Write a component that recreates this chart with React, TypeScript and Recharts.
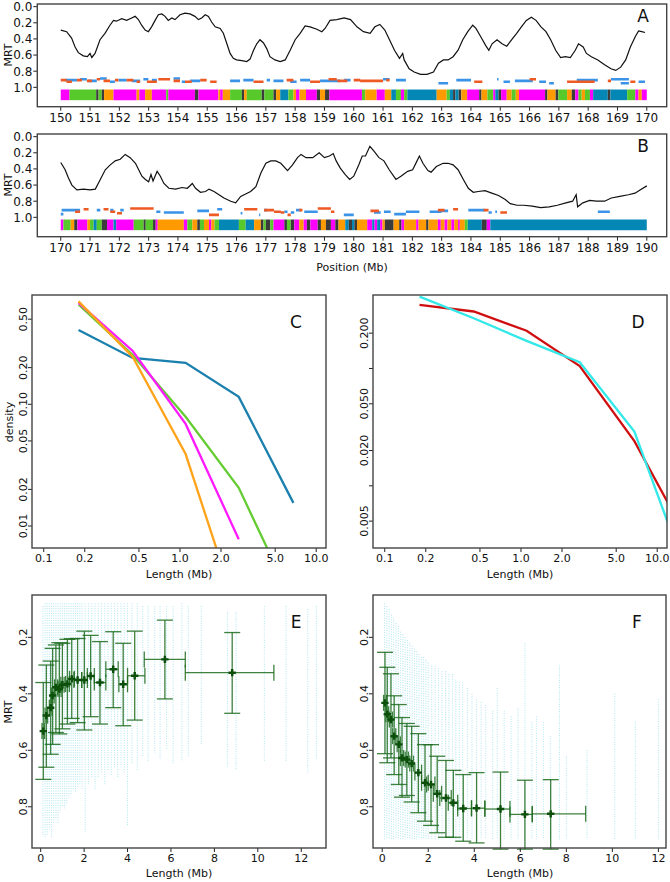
import React from 'react';
import {
  ComposedChart,
  Line,
  Scatter,
  ErrorBar,
  XAxis,
  YAxis,
  ZAxis,
  ReferenceArea,
} from 'recharts';

// ---------- A / B : MRT profile along the chromosome ----------
const A_POS = [
  150.0, 150.2, 150.37, 150.49, 150.6, 150.77, 150.91, 151.0, 151.06, 151.17, 151.34, 151.51, 151.68, 151.8,
  151.9, 152.08, 152.25, 152.42, 152.54, 152.65, 152.76, 152.88, 152.99, 153.1, 153.22, 153.33, 153.45, 153.56,
  153.67, 153.79, 153.9, 154.07, 154.24, 154.41, 154.58, 154.7, 154.81, 154.93, 155.04, 155.15, 155.27, 155.44,
  155.55, 155.67, 155.78, 155.89, 156.0, 156.18, 156.35, 156.46, 156.58, 156.69, 156.8, 156.92, 157.03, 157.14,
  157.31, 157.49, 157.66, 157.83, 158.0, 158.17, 158.34, 158.51, 158.74, 158.91, 159.02, 159.19, 159.42, 159.67,
  159.89, 160.11, 160.33, 160.56, 160.72, 160.89, 161.06, 161.22, 161.39, 161.56, 161.67, 161.72, 161.89, 162.06,
  162.28, 162.5, 162.72, 162.89, 163.06, 163.22, 163.39, 163.56, 163.72, 163.89, 164.06, 164.17, 164.33, 164.5,
  164.61, 164.72, 164.89, 165.06, 165.22, 165.39, 165.56, 165.72, 165.89, 166.06, 166.22, 166.39, 166.56, 166.72,
  166.89, 167.06, 167.22, 167.39, 167.56, 167.67, 167.83, 167.94, 168.11, 168.33, 168.56, 168.78, 168.94, 169.11,
  169.28, 169.44, 169.61, 169.72, 169.83, 169.94,
];
const A_MRT = [
  0.29, 0.31, 0.39, 0.5, 0.57, 0.61, 0.62, 0.58, 0.63, 0.58, 0.41, 0.33, 0.23, 0.17,
  0.18, 0.15, 0.17, 0.14, 0.12, 0.16, 0.23, 0.29, 0.31, 0.25, 0.17, 0.1, 0.09, 0.12,
  0.17, 0.14, 0.16, 0.1, 0.08, 0.09, 0.12, 0.16, 0.14, 0.1, 0.12, 0.19, 0.25, 0.27,
  0.33, 0.46, 0.58, 0.64, 0.66, 0.67, 0.68, 0.65, 0.54, 0.46, 0.41, 0.45, 0.52, 0.62,
  0.66, 0.68, 0.66, 0.54, 0.41, 0.33, 0.24, 0.25, 0.28, 0.31, 0.27, 0.17, 0.16, 0.14,
  0.16, 0.25, 0.31, 0.33, 0.25, 0.22, 0.29, 0.41, 0.54, 0.64, 0.58, 0.66, 0.77, 0.81,
  0.84, 0.84, 0.81, 0.7, 0.66, 0.66, 0.62, 0.54, 0.41, 0.31, 0.23, 0.27, 0.37, 0.48,
  0.54, 0.46, 0.41, 0.46, 0.49, 0.41, 0.33, 0.25, 0.17, 0.13, 0.17, 0.25, 0.31, 0.41,
  0.54, 0.63, 0.62, 0.63, 0.54, 0.46, 0.5, 0.58, 0.62, 0.66, 0.72, 0.77, 0.79, 0.75,
  0.66, 0.5, 0.37, 0.3, 0.31, 0.32,
];

const B_POS = [
  170.0, 170.15, 170.26, 170.38, 170.55, 170.78, 171.0, 171.18, 171.35, 171.52, 171.69, 171.86, 172.03, 172.2,
  172.37, 172.55, 172.66, 172.77, 172.89, 173.0, 173.08, 173.15, 173.29, 173.4, 173.52, 173.69, 173.92, 174.14,
  174.32, 174.49, 174.6, 174.77, 174.94, 175.06, 175.23, 175.4, 175.57, 175.8, 175.97, 176.14, 176.31, 176.48,
  176.66, 176.83, 177.0, 177.17, 177.34, 177.51, 177.74, 177.91, 178.08, 178.2, 178.37, 178.6, 178.82, 179.0,
  179.17, 179.3, 179.4, 179.54, 179.71, 179.86, 180.0, 180.17, 180.29, 180.4, 180.55, 180.69, 180.86, 181.03,
  181.21, 181.44, 181.61, 181.84, 182.01, 182.16, 182.24, 182.36, 182.53, 182.64, 182.82, 183.05, 183.22, 183.39,
  183.56, 183.74, 183.91, 184.08, 184.25, 184.48, 184.71, 184.94, 185.17, 185.34, 185.57, 185.8, 186.09, 186.38,
  186.67, 186.95, 187.24, 187.47, 187.59, 187.64, 187.82, 188.05, 188.28, 188.56, 188.79, 189.08, 189.37, 189.6,
  189.77, 190.0,
];
const B_MRT = [
  0.32, 0.41, 0.51, 0.6, 0.66, 0.65, 0.66, 0.65, 0.53, 0.41, 0.35, 0.3, 0.28, 0.22,
  0.26, 0.33, 0.41, 0.49, 0.53, 0.56, 0.47, 0.55, 0.43, 0.49, 0.58, 0.64, 0.65, 0.63,
  0.64, 0.58, 0.64, 0.69, 0.68, 0.65, 0.68, 0.72, 0.76, 0.8, 0.82, 0.74, 0.71, 0.68,
  0.62, 0.45, 0.33, 0.3, 0.3, 0.33, 0.42, 0.35, 0.26, 0.22, 0.26, 0.26, 0.2, 0.26,
  0.24, 0.21, 0.3, 0.39, 0.47, 0.53, 0.49, 0.35, 0.24, 0.24, 0.12, 0.18, 0.26, 0.3,
  0.41, 0.53, 0.49, 0.43, 0.41, 0.3, 0.24, 0.33, 0.42, 0.44, 0.37, 0.33, 0.33, 0.35,
  0.41, 0.53, 0.64, 0.69, 0.68, 0.67, 0.7, 0.73, 0.78, 0.83, 0.85, 0.85, 0.86, 0.88,
  0.87, 0.85, 0.82, 0.8, 0.72, 0.87, 0.82, 0.79, 0.8, 0.8, 0.76, 0.74, 0.72, 0.7,
  0.66, 0.61,
];

// segmentation band: [start Mb, end Mb, class]
// M magenta, G green, O orange, D dark, B blue
const A_BAND: [number, number, string][] = [
  [150.0, 150.3, 'M'], [150.3, 151.21, 'G'], [151.21, 151.29, 'D'], [151.29, 151.4, 'G'], [151.4, 151.48, 'D'],
  [151.48, 151.8, 'O'], [151.8, 152.59, 'M'], [152.59, 152.68, 'O'], [152.68, 152.88, 'M'], [152.88, 153.11, 'O'],
  [153.11, 153.6, 'M'], [153.6, 153.67, 'G'], [153.67, 154.58, 'M'], [154.58, 154.7, 'D'], [154.7, 155.38, 'M'],
  [155.38, 155.44, 'O'], [155.44, 155.53, 'M'], [155.53, 155.78, 'O'], [155.78, 156.18, 'G'], [156.18, 156.26, 'D'],
  [156.26, 156.35, 'O'], [156.35, 156.86, 'G'], [156.86, 156.95, 'D'], [156.95, 157.26, 'G'], [157.26, 157.35, 'D'],
  [157.35, 157.49, 'O'], [157.49, 157.77, 'B'], [157.77, 157.94, 'G'], [157.94, 158.03, 'O'], [158.03, 158.15, 'M'],
  [158.15, 158.37, 'O'], [158.37, 158.74, 'M'], [158.74, 158.85, 'D'], [158.85, 159.02, 'O'], [159.02, 159.17, 'D'],
  [159.17, 160.28, 'M'], [160.28, 160.39, 'G'], [160.39, 160.78, 'O'], [160.78, 161.06, 'M'], [161.06, 161.28, 'O'],
  [161.28, 161.44, 'B'], [161.44, 161.61, 'G'], [161.61, 161.72, 'M'], [161.72, 161.83, 'G'], [161.83, 162.83, 'B'],
  [162.83, 163.17, 'O'], [163.17, 163.28, 'G'], [163.28, 163.39, 'B'], [163.39, 163.47, 'D'], [163.47, 163.58, 'B'],
  [163.58, 163.67, 'D'], [163.67, 163.87, 'O'], [163.87, 164.28, 'M'], [164.28, 164.36, 'D'], [164.36, 164.56, 'O'],
  [164.56, 164.76, 'G'], [164.76, 164.83, 'M'], [164.83, 164.94, 'B'], [164.94, 165.03, 'D'], [165.03, 165.22, 'M'],
  [165.22, 165.39, 'O'], [165.39, 165.53, 'G'], [165.53, 165.64, 'O'], [165.64, 166.53, 'M'], [166.53, 166.61, 'D'],
  [166.61, 166.89, 'O'], [166.89, 166.98, 'D'], [166.98, 167.28, 'G'], [167.28, 167.44, 'O'], [167.44, 167.56, 'D'],
  [167.56, 167.67, 'M'], [167.67, 167.78, 'G'], [167.78, 167.89, 'O'], [167.89, 168.06, 'G'], [168.06, 168.17, 'M'],
  [168.17, 168.67, 'B'], [168.67, 168.76, 'D'], [168.76, 169.33, 'B'], [169.33, 169.61, 'G'], [169.61, 169.72, 'M'],
  [169.72, 169.83, 'O'], [169.83, 170.0, 'M'],
];
const B_BAND: [number, number, string][] = [
  [170.0, 170.09, 'M'], [170.09, 170.34, 'G'], [170.34, 170.46, 'O'], [170.46, 170.57, 'D'], [170.57, 170.91, 'M'],
  [170.91, 171.0, 'O'], [171.0, 171.12, 'G'], [171.12, 171.23, 'B'], [171.23, 171.4, 'G'], [171.4, 171.58, 'D'],
  [171.58, 171.8, 'M'], [171.8, 171.89, 'B'], [171.89, 172.49, 'M'], [172.49, 172.83, 'G'], [172.83, 172.9, 'D'],
  [172.9, 173.15, 'G'], [173.15, 173.24, 'D'], [173.24, 173.31, 'M'], [173.31, 174.2, 'O'], [174.2, 174.32, 'M'],
  [174.32, 174.49, 'G'], [174.49, 174.66, 'O'], [174.66, 174.75, 'D'], [174.75, 174.89, 'G'], [174.89, 175.06, 'O'],
  [175.06, 175.14, 'M'], [175.14, 175.25, 'O'], [175.25, 175.4, 'G'], [175.4, 176.08, 'B'], [176.08, 176.31, 'G'],
  [176.31, 176.6, 'B'], [176.6, 176.83, 'O'], [176.83, 176.92, 'D'], [176.92, 177.0, 'G'], [177.0, 177.15, 'D'],
  [177.15, 177.26, 'G'], [177.26, 177.63, 'M'], [177.63, 177.72, 'D'], [177.72, 177.85, 'G'], [177.85, 177.97, 'D'],
  [177.97, 178.14, 'M'], [178.14, 178.29, 'O'], [178.29, 178.4, 'M'], [178.4, 178.52, 'D'], [178.52, 178.77, 'M'],
  [178.77, 178.88, 'D'], [178.88, 179.05, 'O'], [179.05, 179.22, 'D'], [179.22, 179.37, 'M'], [179.37, 179.48, 'D'],
  [179.48, 179.71, 'O'], [179.71, 179.83, 'B'], [179.83, 179.94, 'D'], [179.94, 180.02, 'B'], [180.02, 180.11, 'D'],
  [180.11, 180.46, 'O'], [180.46, 180.63, 'M'], [180.63, 180.71, 'B'], [180.71, 180.8, 'M'], [180.8, 180.9, 'B'],
  [180.9, 180.98, 'M'], [180.98, 181.06, 'O'], [181.06, 181.36, 'D'], [181.36, 181.55, 'O'], [181.55, 181.63, 'D'],
  [181.63, 181.72, 'M'], [181.72, 182.13, 'O'], [182.13, 182.21, 'M'], [182.21, 182.47, 'O'], [182.47, 182.55, 'D'],
  [182.55, 182.87, 'O'], [182.87, 182.97, 'M'], [182.97, 183.1, 'O'], [183.1, 183.2, 'M'], [183.2, 183.33, 'O'],
  [183.33, 183.43, 'M'], [183.43, 183.56, 'O'], [183.56, 183.62, 'M'], [183.62, 183.79, 'O'], [183.79, 183.89, 'G'],
  [183.89, 184.37, 'B'], [184.37, 184.54, 'D'], [184.54, 184.66, 'M'], [184.66, 190.0, 'B'],
];

// short dashes above the band: [start Mb, end Mb, MRT]
const A_DASH_BLUE = [
  [150.15, 150.55, 0.91], [150.66, 150.89, 0.9], [150.94, 151.23, 0.92], [151.34, 151.57, 0.89], [151.68, 151.85, 0.93],
  [151.97, 152.25, 0.91], [152.42, 152.71, 0.92], [152.82, 152.99, 0.9], [153.11, 153.28, 0.91], [153.85, 154.07, 0.89],
  [154.13, 154.24, 0.93], [154.41, 154.76, 0.92], [155.78, 156.12, 0.92], [156.23, 156.58, 0.91], [157.03, 157.14, 0.91],
  [157.26, 157.6, 0.92], [157.83, 158.05, 0.93], [158.17, 158.51, 0.91], [158.85, 159.53, 0.92], [159.67, 159.89, 0.91],
  [161.0, 161.22, 0.9], [161.44, 161.78, 0.91], [162.89, 163.22, 0.95], [163.5, 164.0, 0.91], [164.89, 164.94, 0.9],
  [165.11, 165.33, 0.93], [165.5, 166.11, 0.92], [166.33, 166.56, 0.93], [166.67, 166.83, 0.95], [167.61, 168.33, 0.91],
  [168.78, 169.39, 0.9], [169.11, 169.39, 0.95], [169.72, 169.94, 0.93],
];
const A_DASH_ORANGE = [
  [150.0, 150.2, 0.91], [150.2, 150.38, 0.93], [150.55, 150.72, 0.91], [150.89, 151.06, 0.92], [151.23, 151.34, 0.9],
  [151.46, 151.68, 0.92], [151.85, 151.97, 0.91], [152.25, 152.48, 0.91], [152.59, 152.71, 0.93], [152.94, 153.28, 0.93],
  [153.33, 153.73, 0.9], [153.85, 154.07, 0.92], [154.24, 154.47, 0.93], [154.76, 154.98, 0.91], [155.1, 155.32, 0.93],
  [156.58, 156.92, 0.93], [157.71, 157.94, 0.91], [158.51, 158.85, 0.93], [159.14, 159.42, 0.9], [159.44, 159.78, 0.92],
  [160.0, 160.22, 0.91], [160.22, 161.0, 0.92], [161.11, 161.22, 0.91], [164.11, 164.39, 0.93], [166.0, 166.22, 0.9],
  [167.28, 168.22, 0.93], [168.67, 168.78, 0.92], [169.44, 169.61, 0.93],
];
const B_DASH_BLUE = [
  [170.0, 170.09, 0.96], [170.03, 170.66, 0.91], [171.23, 171.35, 0.91], [171.69, 171.8, 0.91], [172.03, 172.15, 0.91],
  [173.26, 173.4, 0.93], [173.52, 174.2, 0.94], [174.66, 175.06, 0.92], [175.34, 175.51, 0.9], [176.14, 176.2, 0.95],
  [176.77, 176.81, 0.97], [176.94, 177.05, 0.91], [177.63, 177.74, 0.93], [177.85, 177.97, 0.94], [178.03, 178.2, 0.91],
  [178.31, 178.77, 0.93], [179.66, 180.0, 0.97], [180.69, 180.92, 0.94], [181.03, 181.26, 0.93], [181.38, 181.78, 0.96],
  [181.78, 182.24, 0.93], [182.59, 182.99, 0.93], [182.99, 183.22, 0.92], [183.91, 184.48, 0.91], [184.6, 184.71, 0.94],
  [184.83, 184.89, 0.93], [188.33, 188.74, 0.93],
];
const B_DASH_ORANGE = [
  [170.49, 170.66, 0.93], [170.78, 170.95, 0.9], [171.46, 171.63, 0.9], [171.69, 171.86, 0.93], [171.92, 172.09, 0.95],
  [172.37, 173.17, 0.89], [175.06, 175.4, 0.97], [176.26, 176.71, 0.9], [176.94, 177.28, 0.91], [177.28, 177.51, 0.93],
  [177.51, 177.63, 0.94], [177.74, 177.85, 0.97], [178.14, 178.25, 0.91], [178.77, 179.22, 0.89], [179.22, 179.34, 0.93],
  [180.57, 180.86, 0.92], [182.87, 183.1, 0.91], [183.39, 183.56, 0.9], [184.43, 184.6, 0.91], [185.0, 185.23, 0.94],
];

const A_TICKS = [150, 151, 152, 153, 154, 155, 156, 157, 158, 159, 160, 161, 162, 163, 164, 165, 166, 167, 168, 169, 170];
const B_TICKS = [170, 171, 172, 173, 174, 175, 176, 177, 178, 179, 180, 181, 182, 183, 184, 185, 186, 187, 188, 189, 190];
const MRT_TICKS = [0, 0.2, 0.4, 0.6, 0.8, 1.0];

// ---------- C / D : length distributions (log-log) ----------
const C_LEN = [0.18, 0.45, 1.1, 2.7, 6.8];
const C_BLUE = [0.408, 0.24, 0.219, 0.115, 0.0155];
const C_ORANGE = [0.7, 0.245, 0.039, 0.0018, null];
const C_MAGENTA = [0.68, 0.274, 0.069, 0.0078, null];
const C_GREEN = [0.66, 0.254, 0.079, 0.0206, 0.0023];

const D_LEN = [0.18, 0.45, 1.1, 2.7, 6.8, 17];
const D_RED = [0.348, 0.306, 0.21, 0.105, 0.024, 0.0034];
const D_CYAN = [0.41, 0.268, 0.172, 0.113, 0.029, 0.0016];

const LOG_X_TICKS = [0.1, 0.2, 0.5, 1, 2, 5, 10];
const C_Y_TICKS = [0.01, 0.02, 0.05, 0.1, 0.2, 0.5];
const D_Y_TICKS = [0.005, 0.01, 0.02, 0.05, 0.1, 0.2];
const D_Y_LABELED = [0.005, 0.02, 0.05, 0.2];

// ---------- E / F : MRT vs segment length ----------
const E_LEN = [0.12, 0.26, 0.46, 0.55, 0.7, 0.86, 1.0, 1.23, 1.43, 1.7, 2.01, 2.3, 2.73, 3.34, 3.8, 4.33, 5.72, 8.82];
const E_MRT = [0.532, 0.477, 0.449, 0.406, 0.377, 0.383, 0.368, 0.365, 0.347, 0.351, 0.351, 0.337, 0.36, 0.313, 0.366, 0.336, 0.278, 0.325];
const E_MRT_LO = [0.36, 0.298, 0.284, 0.239, 0.227, 0.219, 0.221, 0.207, 0.205, 0.204, 0.178, 0.193, 0.215, 0.18, 0.221, 0.178, 0.139, 0.183];
const E_MRT_HI = [0.703, 0.66, 0.614, 0.579, 0.537, 0.542, 0.524, 0.507, 0.487, 0.502, 0.528, 0.481, 0.507, 0.449, 0.513, 0.493, 0.418, 0.469];
const E_LEN_LO = [0.06, 0.2, 0.4, 0.5, 0.64, 0.8, 0.93, 1.15, 1.33, 1.53, 1.89, 2.15, 2.47, 3.0, 3.6, 4.0, 4.77, 6.66];
const E_LEN_HI = [0.18, 0.32, 0.52, 0.62, 0.78, 0.94, 1.08, 1.32, 1.55, 1.89, 2.15, 2.47, 3.0, 3.57, 4.0, 4.8, 6.66, 10.74];

const F_LEN = [0.12, 0.22, 0.38, 0.52, 0.72, 0.86, 1.07, 1.28, 1.57, 1.86, 2.12, 2.39, 2.77, 3.09, 3.52, 4.1, 5.14, 6.2, 7.32];
const F_MRT = [0.432, 0.472, 0.491, 0.55, 0.579, 0.627, 0.633, 0.647, 0.679, 0.715, 0.721, 0.754, 0.769, 0.786, 0.806, 0.805, 0.808, 0.827, 0.825];
const F_MRT_LO = [0.253, 0.306, 0.329, 0.407, 0.438, 0.484, 0.505, 0.515, 0.541, 0.58, 0.58, 0.621, 0.636, 0.671, 0.686, 0.679, 0.677, 0.706, 0.704];
const F_MRT_HI = [0.612, 0.644, 0.627, 0.686, 0.721, 0.766, 0.76, 0.783, 0.821, 0.851, 0.866, 0.892, 0.908, 0.908, 0.922, 0.928, 0.95, 0.95, 0.95];
const F_LEN_LO = [0.06, 0.16, 0.31, 0.45, 0.65, 0.79, 1.0, 1.2, 1.42, 1.71, 1.93, 2.22, 2.5, 2.87, 3.28, 3.88, 4.46, 5.55, 6.52];
const F_LEN_HI = [0.18, 0.28, 0.45, 0.59, 0.79, 0.93, 1.14, 1.36, 1.71, 2.0, 2.29, 2.58, 3.0, 3.28, 3.88, 4.46, 5.55, 6.52, 8.84];

// vertical bands of individual segments (cyan cloud): length, top MRT, bottom MRT
const E_CLOUD_X = [
  0.1, 0.2, 0.3, 0.4, 0.5, 0.6, 0.7, 0.8, 0.9, 1.0, 1.1, 1.2, 1.3, 1.4, 1.5, 1.6, 1.7, 1.8, 1.9, 2.05, 2.2, 2.35,
  2.5, 2.65, 2.8, 2.95, 3.1, 3.25, 3.4, 3.55, 3.7, 3.85, 4.0, 4.2, 4.45, 4.7, 4.95, 5.25, 5.5, 5.8, 6.1, 6.5, 6.8,
  7.4, 8.6, 9.0, 10.3, 11.3, 12.3, 12.7,
];
const E_CLOUD_TOP = [
  0.09, 0.08, 0.08, 0.08, 0.08, 0.08, 0.08, 0.08, 0.08, 0.08, 0.08, 0.08, 0.08, 0.08, 0.08, 0.08, 0.08, 0.08, 0.08, 0.08, 0.08, 0.08,
  0.08, 0.08, 0.08, 0.08, 0.08, 0.08, 0.08, 0.08, 0.08, 0.08, 0.08, 0.08, 0.08, 0.09, 0.09, 0.09, 0.09, 0.09, 0.09, 0.08, 0.09,
  0.09, 0.11, 0.11, 0.09, 0.09, 0.1, 0.09,
];
const E_CLOUD_BOTTOM = [
  0.9, 0.91, 0.9, 0.88, 0.91, 0.86, 0.84, 0.86, 0.82, 0.8, 0.81, 0.79, 0.77, 0.76, 0.74, 0.75, 0.73, 0.72, 0.74, 0.89, 0.72, 0.7,
  0.74, 0.7, 0.68, 0.72, 0.67, 0.69, 0.66, 0.7, 0.66, 0.68, 0.87, 0.65, 0.67, 0.62, 0.64, 0.61, 0.63, 0.6, 0.65, 0.64, 0.62,
  0.58, 0.66, 0.67, 0.64, 0.64, 0.68, 0.63,
];
const F_CLOUD_X = [
  0.1, 0.2, 0.3, 0.4, 0.5, 0.6, 0.7, 0.8, 0.9, 1.0, 1.1, 1.2, 1.3, 1.4, 1.5, 1.6, 1.7, 1.8, 1.9, 2.0, 2.15, 2.3,
  2.45, 2.6, 2.75, 2.9, 3.05, 3.2, 3.35, 3.5, 3.7, 3.9, 4.1, 4.3, 4.5, 4.8, 5.0, 5.3, 5.6, 5.9, 6.2, 6.5, 6.7,
  7.0, 7.3, 7.7, 8.0, 8.9, 10.1, 11.0, 12.0,
];
const F_CLOUD_TOP = [
  0.08, 0.09, 0.1, 0.12, 0.13, 0.15, 0.16, 0.18, 0.19, 0.2, 0.21, 0.22, 0.23, 0.24, 0.25, 0.26, 0.27, 0.27, 0.28, 0.29, 0.3, 0.3,
  0.31, 0.32, 0.32, 0.33, 0.33, 0.35, 0.36, 0.36, 0.38, 0.4, 0.42, 0.43, 0.44, 0.46, 0.38, 0.46, 0.48, 0.45, 0.22, 0.5, 0.48,
  0.5, 0.55, 0.3, 0.62, 0.6, 0.4, 0.5, 0.42,
];
const F_CLOUD_BOTTOM = F_CLOUD_X.map(() => 0.915);

const LEN_TICKS = [0, 2, 4, 6, 8, 10, 12];
const EF_Y_TICKS = [0.2, 0.4, 0.6, 0.8];

// ---------- styling ----------
const FONT = '"DejaVu Sans", Verdana, sans-serif';
const BAND_COLORS: Record<string, string> = {
  M: '#ff00ff',
  G: '#58c92b',
  O: '#ff9a00',
  D: '#3b3b3b',
  B: '#0587b6',
};
const DASH_BLUE = '#3a93e6';
const DASH_ORANGE = '#ee5a24';
const CLOUD = '#4fc8dd';
const ERR_GREEN = '#1d6b1d';

const toLine = (xs: number[], ys: (number | null)[]) => xs.map((x, i) => ({ x, y: ys[i] }));
const dashData = (segs: number[][]) =>
  segs.flatMap(([s, e, v]) => [{ x: s, y: v }, { x: e, y: v }, { x: e, y: null }]);
const cloudData = (xs: number[], tops: number[], bottoms: number[]) =>
  xs.flatMap((x, i) => [{ x, y: tops[i] }, { x, y: bottoms[i] }, { x, y: null }]);
const errData = (xs: number[], ys: number[], yLo: number[], yHi: number[], xLo: number[], xHi: number[]) =>
  xs.map((x, i) => ({
    x,
    y: ys[i],
    ex: [x - xLo[i], xHi[i] - x],
    ey: [ys[i] - yLo[i], yHi[i] - ys[i]],
  }));

const bottomTick = (fmt: (v: number) => string, size: number) => (p: any) => (
  <text x={p.x} y={p.y} dy="0.76em" textAnchor="middle" fontFamily={FONT} fontSize={size} fill="#111">
    {fmt(p.payload.value)}
  </text>
);
const leftTick = (fmt: (v: number) => string, size: number) => (p: any) => (
  <text x={p.x} y={p.y} dy="0.36em" textAnchor="end" fontFamily={FONT} fontSize={size} fill="#111">
    {fmt(p.payload.value)}
  </text>
);
const rotTick = (fmt: (v: number) => string, size: number) => (p: any) => (
  <text
    x={p.x}
    y={p.y}
    transform={`rotate(-90 ${p.x} ${p.y})`}
    textAnchor="middle"
    fontFamily={FONT}
    fontSize={size}
    fill="#111"
  >
    {fmt(p.payload.value)}
  </text>
);

const fmtInt = (v: number) => String(v);
const fmt1 = (v: number) => v.toFixed(1);
const fmt2 = (v: number) => v.toFixed(2);
const fmtD = (v: number) => (D_Y_LABELED.includes(v) ? v.toFixed(3) : '');

const tickLine = { stroke: '#222', strokeWidth: 1 };

function ProfilePanel(props: {
  top: number;
  pos: number[];
  mrt: number[];
  band: [number, number, string][];
  blue: number[][];
  orange: number[][];
  ticks: number[];
  domain: [number, number];
}) {
  const { top, pos, mrt, band, blue, orange, ticks, domain } = props;
  return (
    <div style={{ position: 'absolute', left: 0, top }}>
      <ComposedChart width={670} height={140} margin={{ top: 4, right: 3.3, bottom: 0, left: 0 }}>
        <XAxis
          type="number"
          dataKey="x"
          domain={domain}
          ticks={ticks}
          interval={0}
          allowDataOverflow
          axisLine={false}
          tickLine={tickLine}
          tickSize={4}
          tickMargin={2}
          height={33.3}
          tick={bottomTick(fmtInt, 12)}
        />
        <YAxis
          type="number"
          dataKey="y"
          domain={[-0.033, 1.24]}
          reversed
          ticks={MRT_TICKS}
          interval={0}
          allowDataOverflow
          axisLine={false}
          tickLine={tickLine}
          tickSize={4}
          tickMargin={1}
          width={37.3}
          tick={leftTick(fmt1, 12)}
        />
        {band.map(([s, e, c], i) => (
          <ReferenceArea key={i} x1={s} x2={e} y1={1.027} y2={1.159} fill={BAND_COLORS[c]} fillOpacity={1} stroke="none" />
        ))}
        <Line data={dashData(blue)} dataKey="y" stroke={DASH_BLUE} strokeWidth={2.6} dot={false} isAnimationActive={false} />
        <Line data={dashData(orange)} dataKey="y" stroke={DASH_ORANGE} strokeWidth={2.6} dot={false} isAnimationActive={false} />
        <Line data={toLine(pos, mrt)} dataKey="y" stroke="#111" strokeWidth={1.2} dot={false} isAnimationActive={false} />
      </ComposedChart>
    </div>
  );
}

function DensityPanel(props: {
  left: number;
  width: number;
  right: number;
  yDomain: [number, number];
  yTicks: number[];
  yFmt: (v: number) => string;
  series: { ys: (number | null)[]; color: string }[];
  xs: number[];
}) {
  const { left, width, right, yDomain, yTicks, yFmt, series, xs } = props;
  return (
    <div style={{ position: 'absolute', left, top: 290 }}>
      <ComposedChart width={width} height={300} margin={{ top: 5, right, bottom: 0, left: 0 }}>
        <XAxis
          type="number"
          dataKey="x"
          scale="log"
          domain={[0.082, 11.8]}
          ticks={LOG_X_TICKS}
          interval={0}
          allowDataOverflow
          axisLine={false}
          tickLine={tickLine}
          tickSize={4}
          tickMargin={2}
          height={42}
          tick={bottomTick(fmt1, 11)}
        />
        <YAxis
          type="number"
          dataKey="y"
          scale="log"
          domain={yDomain}
          ticks={yTicks}
          interval={0}
          allowDataOverflow
          axisLine={false}
          tickLine={tickLine}
          tickSize={4}
          tickMargin={1}
          width={left === 0 ? 32 : 33}
          tick={rotTick(yFmt, 11)}
        />
        {series.map((s, i) => (
          <Line
            key={i}
            data={toLine(xs, s.ys)}
            dataKey="y"
            stroke={s.color}
            strokeWidth={2.3}
            dot={false}
            isAnimationActive={false}
          />
        ))}
      </ComposedChart>
    </div>
  );
}

function LengthPanel(props: {
  left: number;
  width: number;
  right: number;
  yAxisWidth: number;
  xMax: number;
  cloud: { x: number; y: number | null }[];
  points: any[];
}) {
  const { left, width, right, yAxisWidth, xMax, cloud, points } = props;
  return (
    <div style={{ position: 'absolute', left, top: 590 }}>
      <ComposedChart width={width} height={292} margin={{ top: 5, right, bottom: 0, left: 0 }}>
        <XAxis
          type="number"
          dataKey="x"
          domain={[-0.4, xMax]}
          ticks={LEN_TICKS}
          interval={0}
          allowDataOverflow
          axisLine={false}
          tickLine={tickLine}
          tickSize={4}
          tickMargin={2}
          height={34}
          tick={bottomTick(fmtInt, 11)}
        />
        <YAxis
          type="number"
          dataKey="y"
          domain={[0.05, 0.946]}
          reversed
          ticks={EF_Y_TICKS}
          interval={0}
          allowDataOverflow
          axisLine={false}
          tickLine={tickLine}
          tickSize={4}
          tickMargin={1}
          width={yAxisWidth}
          tick={rotTick(fmt1, 11)}
        />
        <ZAxis range={[30, 30]} />
        <Line
          data={cloud}
          dataKey="y"
          stroke={CLOUD}
          strokeWidth={0.9}
          strokeDasharray="0.8 1.6"
          strokeOpacity={0.6}
          dot={false}
          isAnimationActive={false}
        />
        <Scatter data={points} dataKey="y" shape="cross" fill="#0b4f0b" isAnimationActive={false}>
          <ErrorBar dataKey="ey" direction="y" width={8} stroke={ERR_GREEN} strokeWidth={1.3} strokeOpacity={0.85} />
          <ErrorBar dataKey="ex" direction="x" width={8} stroke={ERR_GREEN} strokeWidth={1.3} strokeOpacity={0.85} />
        </Scatter>
      </ComposedChart>
    </div>
  );
}

const Txt = ({ x, y, text, size, rotate }: { x: number; y: number; text: string; size: number; rotate?: boolean }) => (
  <div
    style={{
      position: 'absolute',
      left: x,
      top: y,
      transform: `translate(-50%, -50%)${rotate ? ' rotate(-90deg)' : ''}`,
      fontFamily: FONT,
      fontSize: size,
      lineHeight: 1,
      whiteSpace: 'nowrap',
      color: '#111',
    }}
  >
    {text}
  </div>
);

// plot frames [x, y, w, h]
const FRAMES = [
  [37.3, 4, 629.4, 102.7],
  [37.3, 134, 629.4, 102.7],
  [32, 295, 294, 253],
  [373, 295, 294, 253],
  [32, 595, 294, 253],
  [373, 595, 293, 253],
];

export default function App() {
  return (
    <div style={{ position: 'absolute', left: 0, top: 0, width: 670, height: 882, background: '#fff' }}>
      <ProfilePanel
        top={0}
        pos={A_POS}
        mrt={A_MRT}
        band={A_BAND}
        blue={A_DASH_BLUE}
        orange={A_DASH_ORANGE}
        ticks={A_TICKS}
        domain={[149.2, 170.68]}
      />
      <ProfilePanel
        top={130}
        pos={B_POS}
        mrt={B_MRT}
        band={B_BAND}
        blue={B_DASH_BLUE}
        orange={B_DASH_ORANGE}
        ticks={B_TICKS}
        domain={[169.2, 190.68]}
      />
      <DensityPanel
        left={0}
        width={335}
        right={9}
        xs={C_LEN}
        yDomain={[0.0066, 0.79]}
        yTicks={C_Y_TICKS}
        yFmt={fmt2}
        series={[
          { ys: C_BLUE, color: '#1b80ad' },
          { ys: C_GREEN, color: '#66cc33' },
          { ys: C_MAGENTA, color: '#ff1aff' },
          { ys: C_ORANGE, color: '#ffa31a' },
        ]}
      />
      <DensityPanel
        left={340}
        width={330}
        right={3}
        xs={D_LEN}
        yDomain={[0.00295, 0.423]}
        yTicks={D_Y_TICKS}
        yFmt={fmtD}
        series={[
          { ys: D_RED, color: '#d01010' },
          { ys: D_CYAN, color: '#33e8e8' },
        ]}
      />
      <LengthPanel
        left={0}
        width={335}
        right={9}
        yAxisWidth={32}
        xMax={13.14}
        cloud={cloudData(E_CLOUD_X, E_CLOUD_TOP, E_CLOUD_BOTTOM)}
        points={errData(E_LEN, E_MRT, E_MRT_LO, E_MRT_HI, E_LEN_LO, E_LEN_HI)}
      />
      <LengthPanel
        left={340}
        width={330}
        right={4}
        yAxisWidth={33}
        xMax={12.33}
        cloud={cloudData(F_CLOUD_X, F_CLOUD_TOP, F_CLOUD_BOTTOM)}
        points={errData(F_LEN, F_MRT, F_MRT_LO, F_MRT_HI, F_LEN_LO, F_LEN_HI)}
      />

      <svg width={670} height={882} style={{ position: 'absolute', left: 0, top: 0, pointerEvents: 'none' }}>
        {FRAMES.map(([x, y, w, h], i) => (
          <rect key={i} x={x} y={y} width={w} height={h} fill="none" stroke="#444" strokeWidth={1.4} />
        ))}
      </svg>

      <Txt x={7.5} y={55} text="MRT" size={11} rotate />
      <Txt x={7.5} y={185} text="MRT" size={11} rotate />
      <Txt x={352} y={267} text="Position (Mb)" size={11} />
      <Txt x={8.5} y={422} text="density" size={11} rotate />
      <Txt x={179} y={574} text="Length (Mb)" size={11} />
      <Txt x={520} y={574} text="Length (Mb)" size={11} />
      <Txt x={7.5} y={712} text="MRT" size={11} rotate />
      <Txt x={179} y={873} text="Length (Mb)" size={11} />
      <Txt x={520} y={873} text="Length (Mb)" size={11} />

      <Txt x={643} y={16} text="A" size={17} />
      <Txt x={643} y={146} text="B" size={17} />
      <Txt x={296} y={322} text="C" size={17} />
      <Txt x={638} y={322} text="D" size={17} />
      <Txt x={296} y={622} text="E" size={17} />
      <Txt x={637} y={622} text="F" size={17} />
    </div>
  );
}
